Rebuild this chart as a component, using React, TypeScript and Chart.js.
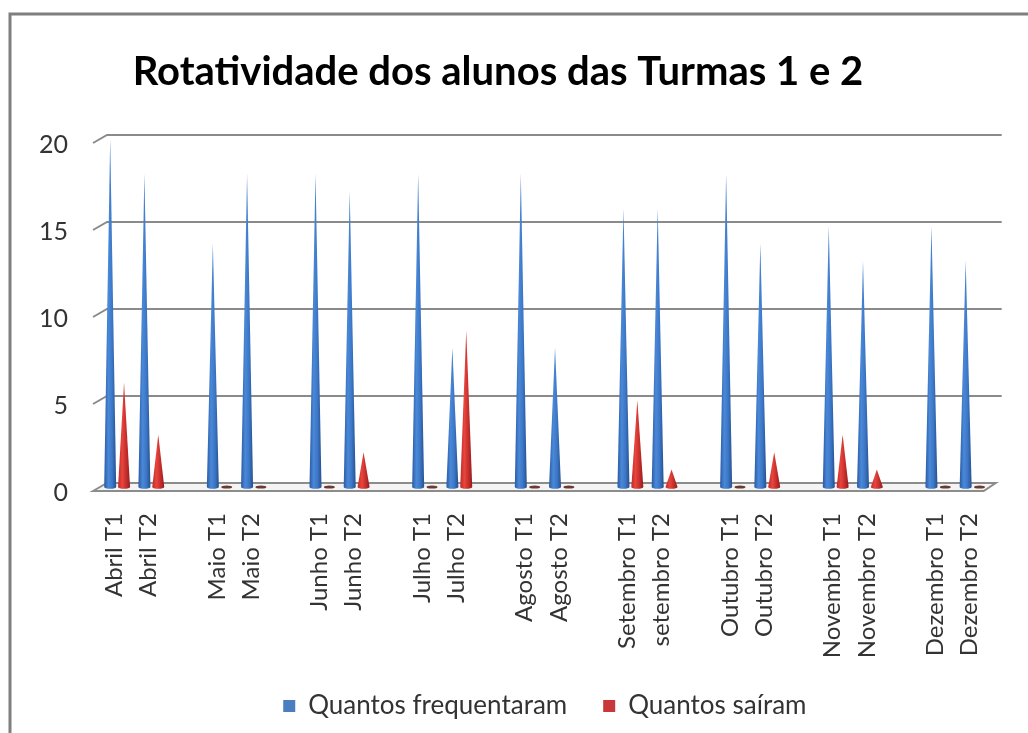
import React, { useEffect, useRef } from "react";
import { Chart, registerables } from "chart.js";

Chart.register(...registerables);

const categories = [
  "Abril T1", "Abril T2", "",
  "Maio T1", "Maio T2", "",
  "Junho T1", "Junho T2", "",
  "Julho T1", "Julho T2", "",
  "Agosto T1", "Agosto T2", "",
  "Setembro T1", "setembro T2", "",
  "Outubro T1", "Outubro T2", "",
  "Novembro T1", "Novembro T2", "",
  "Dezembro T1", "Dezembro T2",
];

const frequentaram = [
  20, 18, null,
  14, 18, null,
  18, 17, null,
  18, 8, null,
  18, 8, null,
  16, 16, null,
  18, 14, null,
  15, 13, null,
  15, 13,
];

const sairam = [
  6, 3, null,
  0, 0, null,
  0, 2, null,
  0, 9, null,
  0, 0, null,
  5, 1, null,
  0, 2, null,
  3, 1, null,
  0, 0,
];

const yTicks = [0, 5, 10, 15, 20];

const FONT = "Lato, 'Open Sans', sans-serif";

const conePlugin = {
  id: "cones",
  beforeDraw(chart: any) {
    const ctx = chart.ctx;
    ctx.save();
    ctx.fillStyle = "#ffffff";
    ctx.fillRect(0, 0, chart.width, chart.height);
    ctx.strokeStyle = "#7f7f7f";
    ctx.lineWidth = 3;
    ctx.beginPath();
    ctx.moveTo(10, chart.height);
    ctx.lineTo(10, 14);
    ctx.lineTo(chart.width, 14);
    ctx.stroke();
    ctx.restore();
  },
  beforeDatasetsDraw(chart: any) {
    const ctx = chart.ctx;
    const ys = chart.scales.y;
    const { left, right } = chart.chartArea;
    ctx.save();
    // floor
    const y0 = ys.getPixelForValue(0);
    ctx.beginPath();
    ctx.moveTo(left - 7, y0 + 4);
    ctx.lineTo(left + 7, y0 - 4);
    ctx.lineTo(right + 6, y0 - 4);
    ctx.lineTo(right - 6, y0 + 4);
    ctx.closePath();
    ctx.fillStyle = "#f4f4f4";
    ctx.fill();
    ctx.strokeStyle = "#8c8c8c";
    ctx.lineWidth = 2;
    ctx.stroke();
    // back wall gridlines
    yTicks.forEach((v) => {
      if (v === 0) return;
      const y = ys.getPixelForValue(v);
      ctx.beginPath();
      ctx.moveTo(left - 7, y + 4);
      ctx.lineTo(left + 7, y - 4);
      ctx.lineTo(right + 12, y - 4);
      ctx.strokeStyle = "#8a8a8a";
      ctx.lineWidth = 2;
      ctx.stroke();
    });
    ctx.restore();
  },
  beforeDatasetDraw() {
    return false;
  },
  afterDatasetsDraw(chart: any) {
    const ctx = chart.ctx;
    const palettes = [
      ["#2a5aa3", "#4a88d8", "#3d78c8", "#26508f"],
      ["#c02a28", "#e8453d", "#c8302c", "#951b1c"],
    ];
    const zeroColors = ["#2c4f80", "#6b3a30"];
    ctx.save();
    chart.data.datasets.forEach((ds: any, di: number) => {
      const meta = chart.getDatasetMeta(di);
      meta.data.forEach((el: any, i: number) => {
        const v = ds.data[i];
        if (v === null || v === undefined) return;
        const x = el.x;
        const base = el.base;
        const w = 12;
        if (v === 0) {
          ctx.beginPath();
          ctx.ellipse(x, base, 5.5, 1.6, 0, 0, Math.PI * 2);
          ctx.fillStyle = zeroColors[di];
          ctx.fill();
          return;
        }
        const top = el.y;
        const p = palettes[di];
        const g = ctx.createLinearGradient(x - w / 2, 0, x + w / 2, 0);
        g.addColorStop(0, p[0]);
        g.addColorStop(0.35, p[1]);
        g.addColorStop(0.65, p[2]);
        g.addColorStop(1, p[3]);
        ctx.beginPath();
        ctx.moveTo(x - w / 2, base);
        ctx.lineTo(x, top);
        ctx.lineTo(x + w / 2, base);
        ctx.ellipse(x, base, w / 2, 1.8, 0, 0, Math.PI);
        ctx.closePath();
        ctx.fillStyle = g;
        ctx.fill();
      });
    });
    ctx.restore();
  },
};

export default function App() {
  const ref = useRef<HTMLCanvasElement | null>(null);
  useEffect(() => {
    if (!ref.current) return;
    const chart = new Chart(ref.current, {
      type: "bar",
      data: {
        labels: categories,
        datasets: [
          {
            label: "Quantos frequentaram",
            data: frequentaram,
            backgroundColor: "#4a7ebf",
            borderWidth: 0,
            categoryPercentage: 0.81,
            barPercentage: 1,
          },
          {
            label: "Quantos saíram",
            data: sairam,
            backgroundColor: "#c8373a",
            borderWidth: 0,
            categoryPercentage: 0.81,
            barPercentage: 1,
          },
        ],
      },
      options: {
        responsive: false,
        animation: false,
        layout: { padding: { left: 0, right: 32, top: 0, bottom: 4 } },
        plugins: {
          title: {
            display: true,
            text: "Rotatividade dos alunos das Turmas 1 e 2",
            color: "#000000",
            font: { family: FONT, size: 40, weight: "bold" },
            padding: { top: 48, bottom: 43 },
          },
          legend: {
            display: true,
            position: "bottom",
            fullSize: false,
            labels: {
              color: "#333333",
              font: { family: FONT, size: 26 },
              boxWidth: 12,
              boxHeight: 12,
              padding: 36,
            },
          },
          tooltip: { enabled: false },
        },
        scales: {
          x: {
            grid: { display: false, drawTicks: false },
            border: { display: false },
            ticks: {
              autoSkip: false,
              maxRotation: 90,
              minRotation: 90,
              padding: 26,
              labelOffset: -3,
              color: "#333333",
              font: { family: FONT, size: 24 },
            },
            afterFit: (scale: any) => {
              scale.height = 170;
            },
          },
          y: {
            min: 0,
            max: 20,
            grid: { display: false, drawTicks: false },
            border: { display: false },
            ticks: {
              stepSize: 5,
              padding: 32,
              labelOffset: 6,
              color: "#333333",
              font: { family: FONT, size: 25 },
            },
            afterFit: (scale: any) => {
              scale.width = 100;
            },
          },
        },
      },
      plugins: [conePlugin],
    });
    return () => chart.destroy();
  }, []);
  return (
    <div style={{ position: "fixed", left: 0, top: 0, width: 1028, height: 733 }}>
      <canvas ref={ref} width={1028} height={733} />
    </div>
  );
}
